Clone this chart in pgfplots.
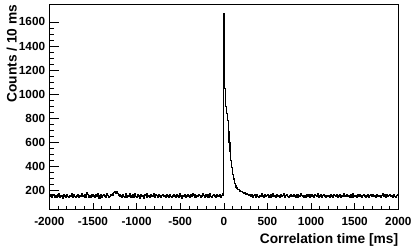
\documentclass[border=0pt]{standalone}
\usepackage{pgfplots}
\usepackage{pgfplotstable}
\pgfplotsset{compat=1.18}
\usepackage{fontspec}
\setmainfont{Liberation Sans}

\pgfplotstableread[row sep=\\,header=false]{
159\\147\\166\\142\\154\\163\\145\\157\\138\\162\\
150\\171\\144\\153\\160\\136\\165\\148\\157\\142\\
166\\147\\141\\159\\151\\174\\154\\145\\162\\150\\
139\\157\\168\\148\\144\\160\\153\\172\\147\\156\\
162\\144\\151\\178\\165\\145\\157\\139\\159\\166\\
148\\156\\142\\162\\153\\171\\147\\136\\157\\163\\
145\\159\\168\\150\\141\\154\\177\\160\\144\\151\\
165\\156\\172\\160\\180\\188\\174\\192\\176\\157\\
166\\147\\159\\141\\163\\151\\144\\170\\154\\138\\
160\\150\\171\\145\\157\\165\\139\\153\\174\\148\\
142\\162\\151\\130\\159\\168\\147\\156\\136\\163\\
154\\144\\172\\150\\160\\141\\165\\148\\157\\177\\
151\\139\\162\\156\\145\\166\\150\\159\\138\\157\\
165\\147\\154\\142\\168\\151\\160\\141\\163\\150\\
144\\157\\166\\148\\156\\139\\162\\153\\145\\171\\
156\\147\\136\\160\\150\\163\\144\\154\\168\\148\\
159\\142\\165\\151\\174\\156\\145\\162\\139\\157\\
147\\166\\154\\144\\160\\150\\171\\157\\138\\163\\
151\\162\\145\\156\\177\\148\\142\\159\\165\\147\\
157\\139\\163\\153\\147\\166\\144\\160\\154\\171\\
1670\\1050\\900\\840\\780\\690\\600\\520\\450\\390\\
335\\295\\260\\240\\225\\220\\210\\205\\195\\190\\
192\\180\\185\\172\\178\\168\\172\\165\\160\\168\\
159\\150\\166\\145\\156\\163\\142\\154\\162\\148\\
141\\160\\153\\170\\147\\157\\144\\165\\151\\159\\
163\\145\\156\\138\\162\\151\\172\\148\\157\\142\\
154\\166\\147\\159\\141\\163\\150\\156\\177\\160\\
144\\157\\165\\151\\139\\160\\148\\168\\156\\147\\
162\\153\\142\\159\\166\\145\\156\\150\\171\\154\\
148\\139\\160\\156\\144\\165\\151\\162\\142\\157\\
166\\150\\159\\141\\163\\154\\147\\174\\157\\145\\
153\\162\\142\\156\\166\\148\\159\\139\\160\\151\\
157\\145\\168\\150\\159\\141\\162\\154\\147\\165\\
144\\156\\151\\163\\142\\160\\150\\171\\153\\147\\
160\\166\\148\\157\\139\\162\\153\\145\\170\\156\\
150\\159\\142\\163\\154\\147\\166\\157\\144\\160\\
168\\151\\145\\159\\150\\162\\141\\156\\165\\148\\
154\\163\\147\\157\\142\\166\\153\\160\\148\\159\\
145\\156\\171\\150\\162\\144\\154\\165\\151\\157\\
163\\147\\159\\142\\156\\166\\150\\145\\159\\162\\
162\\
}\histdata

\begin{document}
\begin{tikzpicture}
\begin{axis}[
  at={(0,0)}, anchor=south west,
  scale only axis,
  width=349bp, height=204.5bp,
  xmin=-2000, xmax=2000,
  ymin=45, ymax=1745,
  axis line style={line width=0.8pt},
  tick align=inside,
  tick pos=left,
  xtick={-2000,-1500,...,2000},
  ytick={200,400,...,1600},
  minor x tick num=4,
  minor y tick num=3,
  x tick style={black, line width=0.6pt, /pgfplots/major tick length=6bp, /pgfplots/minor tick length=3bp},
  y tick style={black, line width=0.6pt, /pgfplots/major tick length=10bp, /pgfplots/minor tick length=5bp},
  /pgf/number format/assume math mode=true,
  /pgf/number format/1000 sep={},
  ticklabel style={font=\bfseries\fontsize{11.8}{12}\selectfont, inner sep=0pt},
  xticklabel style={yshift=-8bp},
  yticklabel style={xshift=-4bp},
  xlabel={Correlation time [ms]},
  ylabel={Counts / 10 ms},
  xlabel style={font=\bfseries\fontsize{13.8}{15}\selectfont, inner sep=0pt,
    at={(axis description cs:1,0)}, anchor=north east, yshift=-24bp},
  ylabel style={font=\bfseries\fontsize{13.8}{15}\selectfont, inner sep=0pt,
    at={(axis description cs:-0.1074,1)}, anchor=east},
]
\addplot[const plot mark left, black, line width=1.2pt, mark=none]
  table[x expr=\coordindex*10-2000, y index=0] {\histdata};
\end{axis}
\pgfresetboundingbox
\path[use as bounding box] (-49.3bp,-39bp) rectangle (365.7bp,209bp);
\end{tikzpicture}
\end{document}
